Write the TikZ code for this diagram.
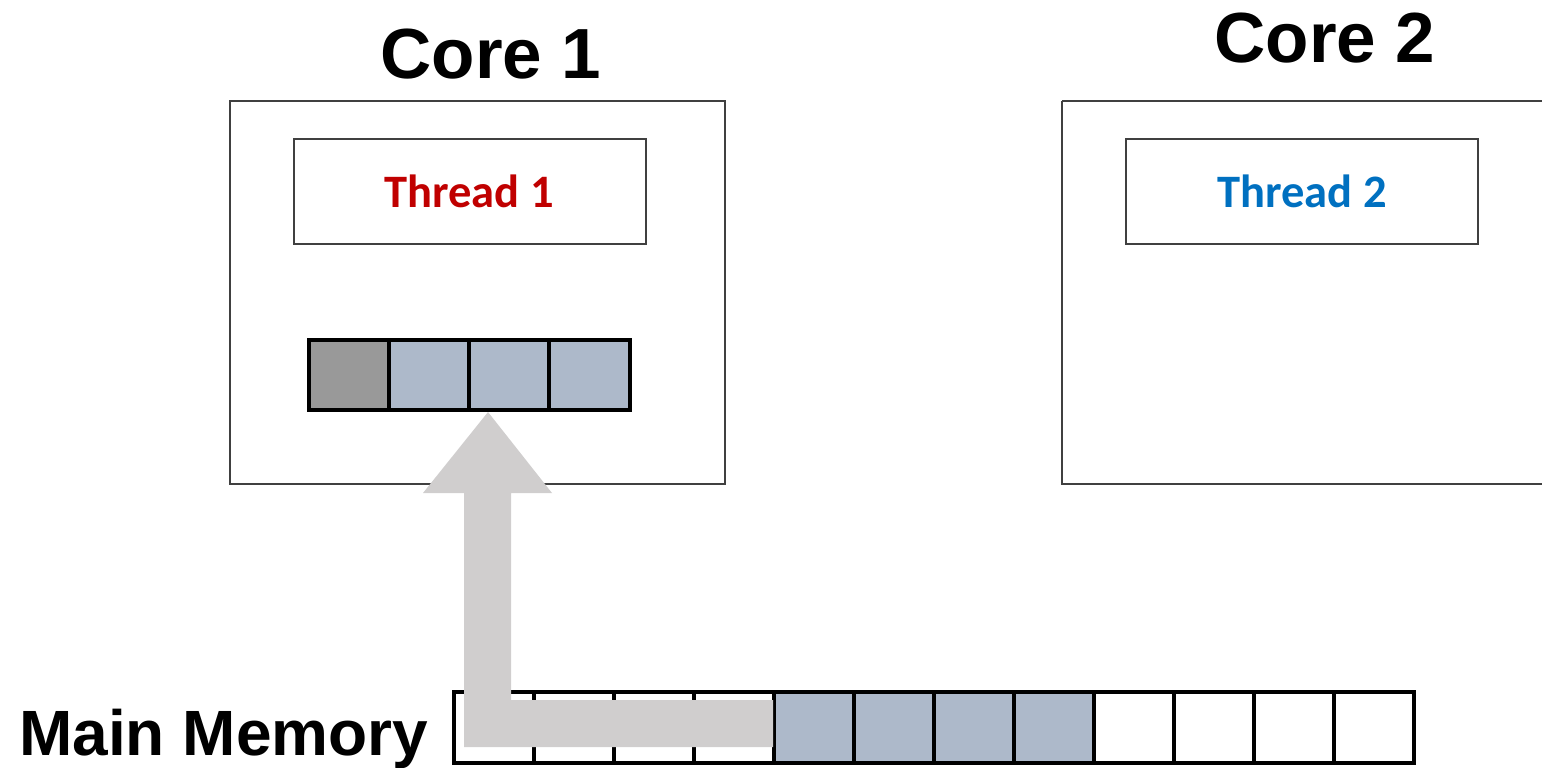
\documentclass[tikz,border=0pt]{standalone}
\usepackage{fontspec}
\setmainfont{Liberation Sans}
\newfontfamily\calib{Carlito}
\definecolor{boxline}{HTML}{404040}
\definecolor{cellblue}{HTML}{ADB9CA}
\definecolor{cellgray}{HTML}{999999}
\definecolor{arrowgray}{HTML}{D0CECE}
\definecolor{tred}{HTML}{C00000}
\definecolor{tblue}{HTML}{0070C0}
\begin{document}
\begin{tikzpicture}[x=1pt,y=-1pt,
  corebox/.style={draw=boxline,line width=1.5pt},
  threadbox/.style={draw=boxline,line width=1.3pt},
  cell/.style={draw=black,line width=3.3pt},
  corelabel/.style={font=\fontsize{71}{78}\selectfont\bfseries,anchor=base,inner sep=0pt},
  threadlabel/.style={font=\calib\fontsize{46.5}{50}\selectfont\bfseries,anchor=base,inner sep=0pt}]
\useasboundingbox (0,0) rectangle (1542,768);
% cores
\draw[corebox] (230,101) rectangle (725,484);
\draw[corebox] (1062,101) -- (1542,101);
\draw[corebox] (1062,101) -- (1062,484) -- (1542,484);
\node[corelabel] (core1) at (491,78) {Core 1};
\node[corelabel] (core2) at (1325,63) {Core 2};
% threads
\draw[threadbox] (294,139) rectangle (646,244);
\draw[threadbox] (1126,139) rectangle (1478,244);
\node[threadlabel,text=tred] (t1) at (469,207) {Thread 1};
\node[threadlabel,text=tblue] (t2) at (1302,207) {Thread 2};
% cache line
\fill[cellgray] (309,340) rectangle (389,410);
\fill[cellblue] (389,340) rectangle (630,410);
\foreach \x in {389,469,549}{\draw[cell] (\x,340) -- (\x,410);}
\draw[cell] (309,340) rectangle (630,410);
% main memory
\fill[cellblue] (774,692) rectangle (1094,763);
\foreach \x in {534,614,...,1334}{\draw[cell] (\x,692) -- (\x,763);}
\draw[cell] (454,692) rectangle (1414,763);
\node[font=\fontsize{64}{70}\selectfont\bfseries,anchor=base west,inner sep=0pt] (mm) at (19,755) {Main Memory};
% arrow
\coordinate (tip) at (488,412);
\fill[arrowgray] (tip) -- (552,493) -- (511,493) -- (511,700) -- (773,700) -- (773,747) -- (464,747) -- (464,493) -- (423,493) -- cycle;
\end{tikzpicture}
\end{document}
